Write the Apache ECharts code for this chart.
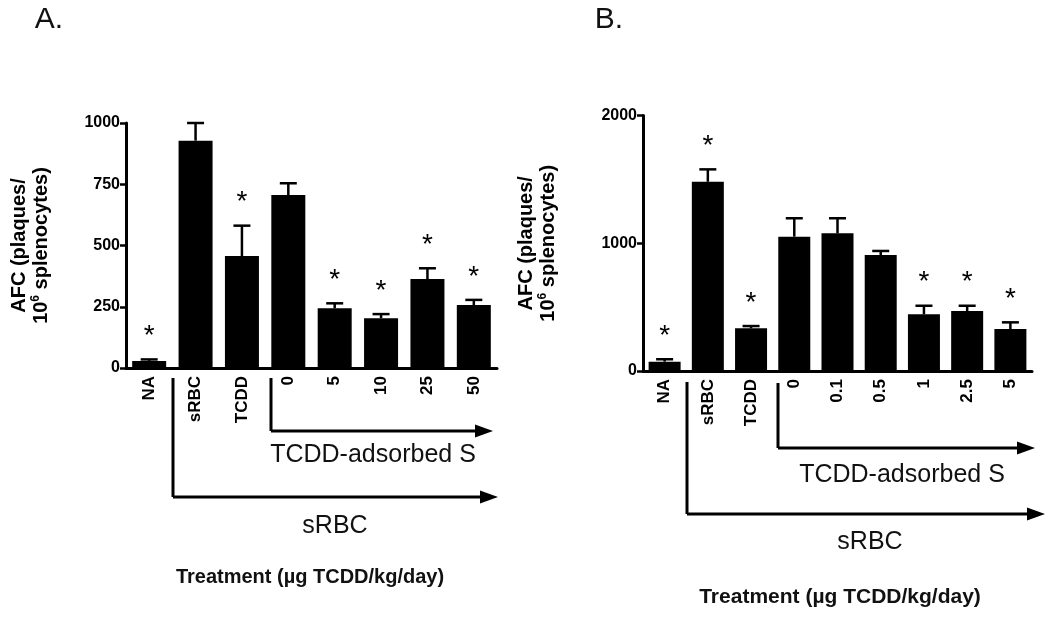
<!DOCTYPE html>
<html>
<head>
<meta charset="utf-8">
<script src="https://cdn.jsdelivr.net/npm/echarts@6/dist/echarts.min.js"></script>
<style>
  html, body { margin: 0; padding: 0; background: #fff; }
  #main { width: 1050px; height: 624px; }
</style>
</head>
<body>
<div id="main"></div>
<script>
// panel A: dose in µg/kg/day, upper SEM
const catsA = ['NA', 'sRBC', 'TCDD', '0', '5', '10', '25', '50'];
const meanA = [29, 928, 457, 706, 244, 203, 363, 257];
const errA = [6, 72, 124, 48, 20, 17, 44, 21];
const starA = [1, 0, 1, 0, 1, 1, 1, 1];

// panel B
const catsB = ['NA', 'sRBC', 'TCDD', '0', '0.1', '0.5', '1', '2.5', '5'];
const meanB = [73, 1482, 334, 1052, 1078, 908, 444, 470, 329];
const errB = [19, 97, 18, 144, 118, 32, 67, 41, 52];
const starB = [1, 1, 1, 0, 0, 0, 1, 1, 1];

const ticksA = { min: 0, max: 1000, interval: 250 };
const ticksB = { min: 0, max: 2000, interval: 1000 };

var chartDom = document.getElementById('main');
var myChart = echarts.init(chartDom);

const FONT = 'Liberation Sans, Arial, sans-serif';

const errItem = (params, api) => {
    var i = api.value(0);
    var top = api.coord([i, api.value(1) + api.value(2)]);
    var base = api.coord([i, api.value(1)]);
    var kids = [
        { type: 'line', shape: { x1: base[0], y1: base[1], x2: top[0], y2: top[1] },
          style: { stroke: '#000', lineWidth: 2.5 } },
        { type: 'line', shape: { x1: top[0] - 8.5, y1: top[1], x2: top[0] + 8.5, y2: top[1] },
          style: { stroke: '#000', lineWidth: 2.5 } }
    ];
    if (api.value(3)) {
        kids.push({ type: 'text', style: { text: '*', x: top[0], y: top[1] - 9,
            align: 'center', verticalAlign: 'bottom', fill: '#000',
            font: '28px ' + FONT } });
    }
    return { type: 'group', children: kids };
};

const yName = {
    fontFamily: FONT, fontWeight: 'bold', fontSize: 20, color: '#000', lineHeight: 22,
    rich: { sup: { fontFamily: FONT, fontWeight: 'bold', fontSize: 12, color: '#000',
                   verticalAlign: 'top', lineHeight: 22, padding: [0, 0, 8, 0] } }
};

const xAx = (cats, idx) => ({
    type: 'category', gridIndex: idx, data: cats,
    axisLine: { lineStyle: { color: '#000', width: 3 } },
    axisTick: { alignWithLabel: true, length: 6, lineStyle: { color: '#000', width: 2.5 } },
    axisLabel: { rotate: 90, color: '#000', fontFamily: FONT, fontWeight: 'bold', fontSize: 17, margin: 8 }
});

const yAx = (t, idx, gap) => ({
    type: 'value', gridIndex: idx, min: t.min, max: t.max, interval: t.interval,
    name: 'AFC (plaques/\n10{sup|6} splenocytes)', nameLocation: 'middle', nameRotate: 90, nameGap: gap,
    nameTextStyle: yName,
    splitLine: { show: false },
    axisLine: { show: true, lineStyle: { color: '#000', width: 3 } },
    axisTick: { show: true, length: 6, lineStyle: { color: '#000', width: 2.5 } },
    axisLabel: { color: '#000', fontFamily: FONT, fontWeight: 'bold', fontSize: 16, margin: 6,
                 formatter: (v) => String(v) }
});

const arrow = (x0, yTop, yLine, xTip) => [
    { type: 'line', shape: { x1: x0, y1: yTop, x2: x0, y2: yLine }, style: { stroke: '#000', lineWidth: 3 } },
    { type: 'line', shape: { x1: x0, y1: yLine, x2: xTip - 12, y2: yLine }, style: { stroke: '#000', lineWidth: 3 } },
    { type: 'polygon', shape: { points: [[xTip, yLine], [xTip - 18, yLine - 6.5], [xTip - 18, yLine + 6.5]] },
      style: { fill: '#000' } }
];

const txt = (s, x, y, size, weight) => ({
    type: 'text', x: x, y: y,
    style: { text: s, align: 'center', verticalAlign: 'middle', fill: '#111',
             font: (weight || 'normal') + ' ' + size + 'px ' + FONT }
});

var option = {
    animation: false,
    backgroundColor: '#fff',
    grid: [
        { left: 126, right: 553, top: 123, bottom: 256 },
        { left: 643, right: 18, top: 115.6, bottom: 253 }
    ],
    xAxis: [xAx(catsA, 0), xAx(catsB, 1)],
    yAxis: [yAx(ticksA, 0, 74), yAx(ticksB, 1, 84)],
    series: [
        { type: 'bar', xAxisIndex: 0, yAxisIndex: 0, data: meanA, barWidth: 34,
          itemStyle: { color: '#000' } },
        { type: 'custom', xAxisIndex: 0, yAxisIndex: 0, renderItem: errItem, z: 3,
          data: meanA.map((m, i) => [i, m, errA[i], starA[i]]) },
        { type: 'bar', xAxisIndex: 1, yAxisIndex: 1, data: meanB, barWidth: 32,
          itemStyle: { color: '#000' } },
        { type: 'custom', xAxisIndex: 1, yAxisIndex: 1, renderItem: errItem, z: 3,
          data: meanB.map((m, i) => [i, m, errB[i], starB[i]]) }
    ],
    graphic: [
        txt('A.', 49, 20, 30),
        txt('B.', 609, 20, 30),
        ...arrow(173, 378, 497, 498),
        ...arrow(271, 378, 431, 493),
        txt('TCDD-adsorbed S', 373, 455, 25),
        txt('sRBC', 335, 526, 25),
        txt('Treatment (µg TCDD/kg/day)', 310, 577, 20, 'bold'),
        ...arrow(687, 382, 514, 1045),
        ...arrow(778, 383, 448, 1035),
        txt('TCDD-adsorbed S', 902, 475, 25),
        txt('sRBC', 870, 542, 25),
        txt('Treatment (µg TCDD/kg/day)', 840, 597, 21, 'bold')
    ]
};

option && myChart.setOption(option);
</script>
</body>
</html>
